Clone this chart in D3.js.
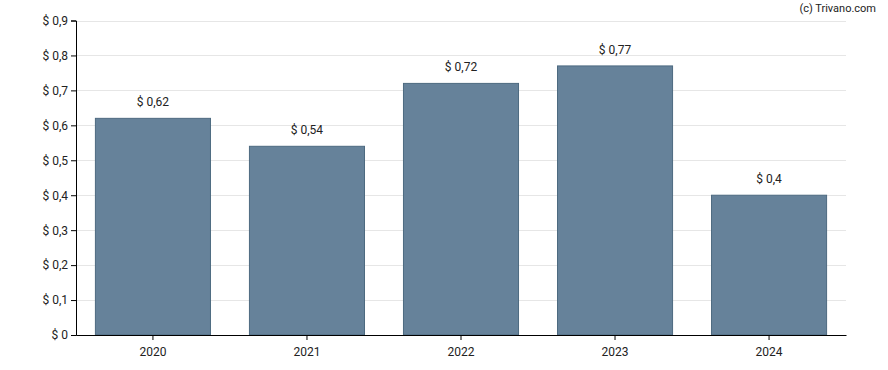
<!DOCTYPE html>
<html><head><meta charset="utf-8">
<script src="https://cdn.jsdelivr.net/npm/d3@7"></script>
<style>body{margin:0;background:#fff}svg{display:block;font-family:Roboto,"Liberation Sans",sans-serif}</style>
</head><body><svg id="c" width="888" height="370"></svg>
<script>
const categories = ["2020","2021","2022","2023","2024"];
const values = [0.62,0.54,0.72,0.77,0.40];
const yTicks = [0,0.1,0.2,0.3,0.4,0.5,0.6,0.7,0.8,0.9];

const svg = d3.select("#c");
const m = {l:76, r:846, t:20.5, b:335};
const x = d3.scaleBand().domain(categories).range([m.l,m.r]).paddingInner(0.253).paddingOuter(0.126);
const y = d3.scaleLinear().domain([0,0.9]).range([m.b,m.t]);
const fmt = v => "$ " + (v===0 ? "0" : String(+v.toFixed(2)).replace(".",","));

svg.append("g").selectAll("line").data(yTicks.filter(d=>d>0)).join("line")
  .attr("x1",m.l).attr("x2",m.r).attr("y1",d=>Math.round(y(d))+0.5).attr("y2",d=>Math.round(y(d))+0.5)
  .attr("stroke","#e6e6e6").attr("stroke-width",1);

svg.append("g").selectAll("rect").data(values).join("rect")
  .attr("x",(d,i)=>x(categories[i])).attr("width",x.bandwidth())
  .attr("y",d=>y(d)).attr("height",d=>m.b-y(d))
  .attr("fill","#66829a").attr("stroke","#4d6a80").attr("stroke-width",1);

svg.append("g").selectAll("text").data(values).join("text")
  .attr("x",(d,i)=>x(categories[i])+x.bandwidth()/2).attr("y",d=>y(d)-12)
  .attr("text-anchor","middle").attr("font-size",12).attr("fill","#222").text(fmt);

const ya = svg.append("g").attr("transform",`translate(${m.l},0)`)
  .call(d3.axisLeft(y).tickValues(yTicks).tickSize(5).tickFormat(fmt));
ya.select(".domain").attr("stroke","#000");
ya.selectAll(".tick line").attr("stroke","#000");
ya.selectAll("text").attr("font-size",12).attr("fill","#222").attr("font-family","Roboto,sans-serif");

const xa = svg.append("g").attr("transform",`translate(0,${m.b})`)
  .call(d3.axisBottom(x).tickSize(5).tickSizeOuter(0));
xa.select(".domain").attr("stroke","#000");
xa.selectAll(".tick line").attr("stroke","#000");
xa.selectAll("text").attr("font-size",12).attr("fill","#222").attr("dy","1.1em").attr("font-family","Roboto,sans-serif");

svg.append("text").attr("x",876).attr("y",12).attr("text-anchor","end")
  .attr("font-size",11).attr("fill","#222").text("(c) Trivano.com");
</script></body></html>
